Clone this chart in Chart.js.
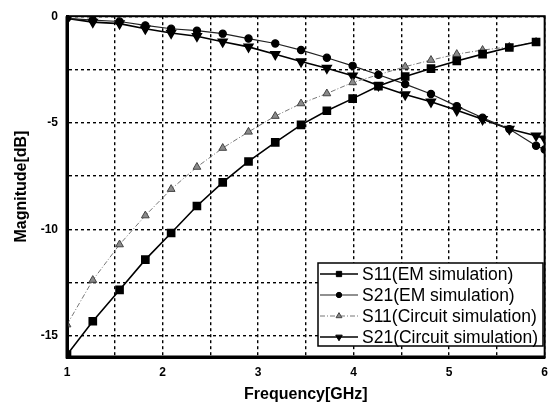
<!DOCTYPE html>
<html>
<head>
<meta charset="utf-8">
<script src="https://cdn.jsdelivr.net/npm/chart.js@4.4.1/dist/chart.umd.min.js"></script>
<style>
  html, body { margin: 0; padding: 0; background: #fff; }
</style>
</head>
<body>
<canvas id="grafico" width="556" height="408"></canvas>
<script>
// frecuencias (GHz) de cada marcador
const freq = [1, 1.27, 1.55, 1.82, 2.09, 2.36, 2.63, 2.9, 3.18, 3.45, 3.72, 3.99, 4.26, 4.54, 4.81, 5.08, 5.35, 5.63, 5.91];
const freqS21 = [1, 1.27, 1.55, 1.82, 2.09, 2.36, 2.63, 2.9, 3.18, 3.45, 3.72, 3.99, 4.26, 4.54, 4.81, 5.08, 5.35, 5.63, 5.91, 6];

// magnitudes en dB
const s11Em = [-15.9, -14.32, -12.85, -11.43, -10.18, -8.91, -7.8, -6.82, -5.92, -5.1, -4.44, -3.87, -3.28, -2.83, -2.46, -2.1, -1.78, -1.47, -1.21];
const s21Em = [-0.1, -0.18, -0.25, -0.43, -0.59, -0.68, -0.82, -1.05, -1.28, -1.59, -1.95, -2.33, -2.75, -3.19, -3.65, -4.22, -4.77, -5.3, -6.08, -6.26];
const s11Circuit = [-14.48, -12.39, -10.72, -9.36, -8.12, -7.08, -6.19, -5.43, -4.69, -4.1, -3.63, -3.11, -2.75, -2.37, -2.06, -1.78, -1.59, -1.44, -1.21];
const s21Circuit = [-0.1, -0.28, -0.35, -0.59, -0.79, -0.94, -1.2, -1.44, -1.79, -2.13, -2.44, -2.8, -3.25, -3.68, -4.02, -4.42, -4.84, -5.3, -5.61, -5.75];

const etiquetas = ["S11(EM simulation)", "S21(EM simulation)", "S11(Circuit simulation)", "S21(Circuit simulation)"];

function puntos(xs, ys) {
  return ys.map((y, i) => ({ x: xs[i], y: y }));
}

const fuente = '"Liberation Sans", Arial, sans-serif';

// marco y leyenda dibujados a mano
const leyendaPlugin = {
  id: "leyenda",
  afterDraw(chart) {
    const ctx = chart.ctx;
    const a = chart.chartArea;
    ctx.save();
    ctx.strokeStyle = "#000";
    ctx.lineWidth = 2;
    ctx.strokeRect(a.left, a.top, a.right - a.left, a.bottom - a.top);
    ctx.lineWidth = 3;
    ctx.beginPath();
    ctx.moveTo(a.left, a.top);
    ctx.lineTo(a.left, a.bottom);
    ctx.lineTo(a.right, a.bottom);
    ctx.stroke();

    const bx = 318, by = 263, bw = 225, bh = 83;
    ctx.fillStyle = "#fff";
    ctx.fillRect(bx, by, bw, bh);
    ctx.lineWidth = 1.5;
    ctx.strokeRect(bx, by, bw, bh);
    ctx.font = "17.5px " + fuente;
    ctx.textBaseline = "middle";
    chart.data.datasets.forEach((ds, i) => {
      const y = by + 11 + i * 21;
      ctx.setLineDash(ds.borderDash || []);
      ctx.strokeStyle = ds.borderColor;
      ctx.lineWidth = ds.borderWidth;
      ctx.beginPath();
      ctx.moveTo(bx + 2, y);
      ctx.lineTo(bx + 40, y);
      ctx.stroke();
      ctx.setLineDash([]);
      ctx.fillStyle = ds.pointBackgroundColor;
      ctx.strokeStyle = ds.pointBorderColor;
      ctx.lineWidth = 1;
      Chart.helpers.drawPoint(ctx, {
        pointStyle: ds.pointStyle,
        rotation: ds.pointRotation || 0,
        radius: ds.pointRadius * 0.75,
        borderWidth: 1
      }, bx + 21, y);
      ctx.fillStyle = "#000";
      ctx.fillText(ds.label, bx + 44, y + 1);
    });
    ctx.restore();
  }
};

const ctx = document.getElementById("grafico").getContext("2d");
new Chart(ctx, {
  type: "line",
  data: {
    datasets: [
      {
        label: etiquetas[0],
        data: puntos(freq, s11Em),
        borderColor: "#000",
        borderWidth: 1.6,
        pointStyle: "rect",
        pointRadius: 5,
        pointBackgroundColor: "#000",
        pointBorderColor: "#000"
      },
      {
        label: etiquetas[1],
        data: puntos(freqS21, s21Em),
        borderColor: "#222",
        borderWidth: 1.2,
        pointStyle: "circle",
        pointRadius: 3.6,
        pointBackgroundColor: "#000",
        pointBorderColor: "#000"
      },
      {
        label: etiquetas[2],
        data: puntos(freq, s11Circuit),
        borderColor: "#777",
        borderWidth: 1,
        borderDash: [5, 2, 1, 2],
        pointStyle: "triangle",
        pointRadius: 4.5,
        pointBackgroundColor: "#8a8a8a",
        pointBorderColor: "#444"
      },
      {
        label: etiquetas[3],
        data: puntos(freqS21, s21Circuit),
        borderColor: "#000",
        borderWidth: 1.6,
        pointStyle: "triangle",
        pointRotation: 180,
        pointRadius: 5,
        pointBackgroundColor: "#000",
        pointBorderColor: "#000"
      }
    ]
  },
  options: {
    responsive: false,
    animation: false,
    layout: { padding: { left: 0, right: 5, top: 14, bottom: 0 } },
    elements: { line: { tension: 0 } },
    plugins: {
      legend: { display: false },
      tooltip: { enabled: false }
    },
    scales: {
      x: {
        type: "linear",
        min: 1,
        max: 6,
        afterFit: (s) => { s.height = 51; },
        ticks: {
          stepSize: 0.5,
          autoSkip: false,
          maxRotation: 0,
          padding: 8,
          color: "#000",
          font: { family: fuente, size: 12, weight: "bold" },
          callback: (v) => (Number.isInteger(v) ? v : "")
        },
        grid: { color: "#000", lineWidth: 1.4, drawTicks: false },
        border: { display: true, color: "#000", width: 3, dash: [3, 3] },
        title: {
          display: true,
          text: "Frequency[GHz]",
          color: "#000",
          font: { family: fuente, size: 16, weight: "bold" },
          padding: { top: 0, bottom: 3.5 }
        }
      },
      y: {
        min: -16,
        max: 0,
        afterFit: (s) => { s.width = 67; },
        ticks: {
          stepSize: 2.5,
          autoSkip: false,
          padding: 9,
          color: "#000",
          font: { family: fuente, size: 12, weight: "bold" },
          callback: (v) => (v % 5 === 0 ? v : "")
        },
        grid: { color: "#000", lineWidth: 1.4, drawTicks: false },
        border: { display: true, color: "#000", width: 3, dash: [3, 3] },
        title: {
          display: true,
          text: "Magnitude[dB]",
          color: "#000",
          font: { family: fuente, size: 16, weight: "bold" },
          padding: { top: 12, bottom: 0 }
        }
      }
    }
  },
  plugins: [leyendaPlugin]
});
</script>
</body>
</html>
